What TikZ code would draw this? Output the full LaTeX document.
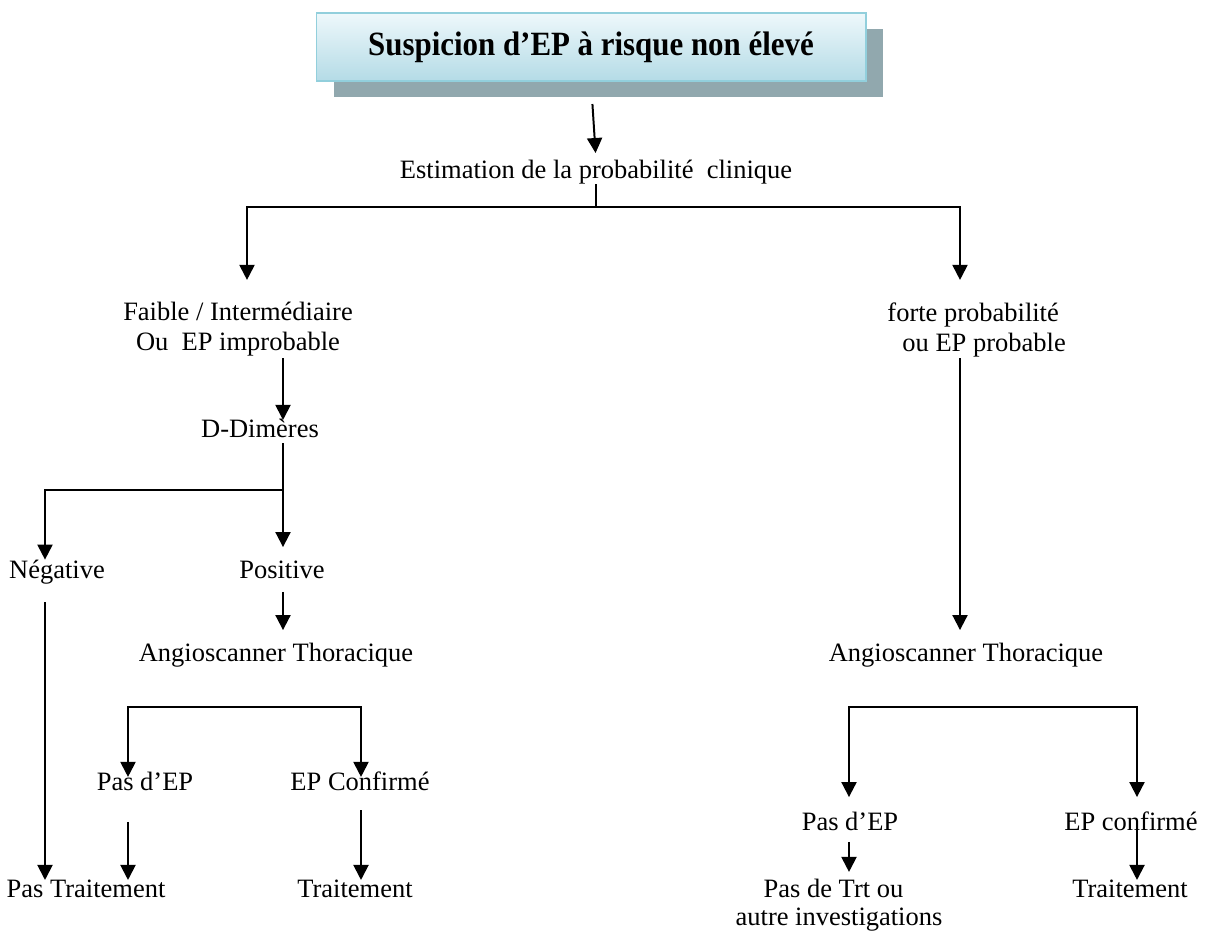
\documentclass[tikz,border=0pt]{standalone}
\usepackage{fontspec}
\setmainfont{Liberation Serif}
\usetikzlibrary{
  arrows.meta,
  shadows
}
\definecolor{epTop}{HTML}{EEF8FB}
\definecolor{epBottom}{HTML}{B4DBE6}
\definecolor{epFrame}{HTML}{92CFDC}
\definecolor{epShadow}{HTML}{91A8AE}
\tikzset{
  txt/.style={font=\fontsize{12}{13.6}\selectfont, inner sep=0pt, align=center},
  lbl/.style={txt, text height=8.2pt, text depth=2.6pt},
  titlebox/.style={
    draw=epFrame, line width=0.9pt, top color=epTop, bottom color=epBottom,
    minimum width=248.7pt, minimum height=30.8pt, inner sep=0pt,
    drop shadow={shadow xshift=7.7pt, shadow yshift=-7.2pt, fill=epShadow, opacity=1}
  },
  link/.style={line width=0.9pt, black},
  arr/.style={link, -{Triangle[width=6.8pt, length=6.8pt]}},
  twoarr/.style={link, {Triangle[width=6.8pt, length=6.8pt]}-{Triangle[width=6.8pt, length=6.8pt]}}
}

\begin{document}
\begin{tikzpicture}[x=0.453pt, y=-0.453pt]
  \useasboundingbox (0,0) rectangle (1206,931);
  \fill[white] (0,0) rectangle (1206,931);

  % title
  \node[titlebox] (title) at (591,47)
    {\fontsize{14}{16}\selectfont\bfseries\scalebox{1}[1.1]{Suspicion d’EP à risque non élevé}};
  \node[lbl] (estim) at (596,172) {Estimation de la probabilité\ \ clinique};

  % two branches
  \node[txt, anchor=north] (faible) at (238,302)
    {Faible / Intermédiaire\\Ou\ \ EP improbable};
  \node[txt, anchor=north west, align=left] (forte) at (887,302)
    {forte probabilité\\\hspace*{6.8pt}ou EP probable};

  % left side
  \node[lbl] (dd) at (260,431) {D-Dimères};
  \node[lbl] (neg) at (57,572) {Négative};
  \node[lbl] (pos) at (282,572) {Positive};
  \node[lbl] (ang1) at (276,655) {Angioscanner Thoracique};
  \node[lbl] (pas1) at (145,784) {Pas d’EP};
  \node[lbl] (conf1) at (360,784) {EP Confirmé};
  \node[lbl] (pastr) at (86,891) {Pas Traitement};
  \node[lbl] (trt1) at (355,891) {Traitement};

  % right side
  \node[lbl] (ang2) at (966,655) {Angioscanner Thoracique};
  \node[lbl] (pas2) at (850,824) {Pas d’EP};
  \node[lbl] (conf2) at (1131,824) {EP confirmé};
  \node[txt, anchor=north, font=\fontsize{12}{12.7}\selectfont] (pastrt) at (839,879)
    {Pas de Trt ou\hspace*{5pt}\\autre investigations};
  \node[lbl] (trt2) at (1130,891) {Traitement};

  % columns of the connectors
  \coordinate (cNeg) at (45,0);
  \coordinate (cPas) at (128,0);
  \coordinate (cLow) at (247,0);
  \coordinate (cMid) at (283,0);
  \coordinate (cConf) at (361,0);
  \coordinate (cPas2) at (849,0);
  \coordinate (cHigh) at (960,0);
  \coordinate (cConf2) at (1137,0);

  \draw[arr, shorten <=10pt, shorten >=3pt] (title.south) -- (estim.north);
  \draw[arr, shorten >=10pt] (estim.south) -- ++(0,23) -| (faible.north -| cLow);
  \draw[arr, shorten >=10pt] (estim.south) -- ++(0,23) -| (forte.north -| cHigh);

  \draw[arr, shorten <=0.5pt, shorten >=-0.6pt] (faible.south -| cMid) -- (dd.north -| cMid);
  \draw[arr] (dd.south -| cMid) -- ++(0,47) -| (neg.north -| cNeg);
  \draw[arr, shorten >=5.7pt] (dd.south -| cMid) -- (pos.north -| cMid);
  \draw[arr, shorten <=3.4pt, shorten >=5.7pt] (pos.south -| cMid) -- (ang1.north -| cMid);
  \draw[arr, shorten <=8pt, shorten >=-0.6pt] (neg.south -| cNeg) -- (pastr.north -| cNeg);
  \draw[twoarr, shorten <=-2.4pt, shorten >=-2.4pt] (pas1.north -| cPas) -- ++(0,-65) -| (conf1.north -| cConf);
  \draw[arr, shorten <=11.6pt, shorten >=-0.6pt] (pas1.south -| cPas) -- (pastr.north -| cPas);
  \draw[arr, shorten <=6.2pt, shorten >=-0.6pt] (conf1.south -| cConf) -- (trt1.north -| cConf);

  \draw[arr, shorten <=0.5pt, shorten >=5.7pt] (forte.south -| cHigh) -- (ang2.north -| cHigh);
  \draw[twoarr, shorten <=6.6pt, shorten >=6.6pt] (pas2.north -| cPas2) -- ++(0,-105) -| (conf2.north -| cConf2);
  \draw[arr, shorten <=2.5pt, shorten >=3.2pt] (pas2.south -| cPas2) -- (pastrt.north -| cPas2);
  \draw[arr, shorten <=-2.9pt, shorten >=-0.6pt] (conf2.south -| cConf2) -- (trt2.north -| cConf2);
\end{tikzpicture}
\end{document}
